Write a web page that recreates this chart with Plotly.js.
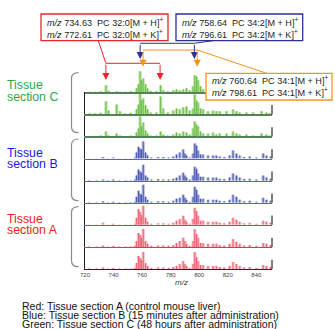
<!DOCTYPE html>
<html><head><meta charset="utf-8">
<script src="https://cdn.plot.ly/plotly-3.0.1.min.js"></script>
<style>html,body{margin:0;padding:0;background:#fff;}#chart{width:335px;height:329px;}</style>
</head><body><div id="chart"></div>
<script>
// ---------- data ----------
const xRange = [720, 851];
const tickVals = [720, 740, 760, 780, 800, 820, 840];

// Tissue section C (green) peak positions and intensities (0-100 of panel height)
const greenMz = [723.5,727.0,731.0,734.7,736.5,742.2,744.5,748.0,752.0,756.1,757.5,758.6,759.6,760.8,762.4,763.8,766.0,770.0,773.0,774.8,778.0,781.8,784.1,786.4,788.8,791.1,793.4,795.7,796.9,798.1,799.2,800.9,802.7,806.2,809.7,812.0,814.4,819.1,823.7,826.1,828.4,833.1,837.7,843.6,847.1,849.5];
const greenC1 = [2,2,5,32,7,5,2,2,5,18,36,95,54,63,36,18,7,5,32,9,5,9,14,9,14,18,9,27,77,72,54,27,14,9,14,9,9,9,14,9,5,5,5,9,5,5];
const greenC2 = [5,5,7,59,18,45,14,5,7,23,45,99,63,72,41,23,9,9,81,27,9,18,27,23,32,36,18,27,90,63,54,27,23,14,18,14,14,14,23,14,9,9,9,14,9,5];
const greenC3 = [2,2,5,23,5,14,5,2,5,18,36,90,45,63,27,14,5,5,23,9,5,9,18,14,23,18,9,36,68,54,45,23,14,14,18,9,14,14,23,14,9,9,5,14,9,5];

// Tissue sections B (blue) and A (red) peak positions
const abMz = [723.0,728.0,732.6,736.0,739.8,744.0,748.5,752.0,755.0,756.1,757.5,758.6,759.6,760.8,762.4,763.8,766.5,771.2,774.8,778.5,781.8,784.1,786.4,788.8,790.0,791.1,793.4,795.7,796.9,798.1,799.2,800.9,802.7,806.2,809.7,812.0,814.4,817.5,821.3,823.7,826.1,828.4,831.5,835.4,840.0,844.8,847.1,850.0];
const blueB1 = [2,2,7,2,5,2,2,2,5,27,54,45,41,77,27,14,5,7,7,5,9,18,27,41,23,14,5,23,68,59,36,18,18,14,14,14,9,7,14,36,23,14,7,9,5,23,14,9];
const blueB2 = [2,2,5,2,5,2,2,2,5,23,50,41,36,72,23,14,5,7,5,5,9,14,23,36,23,14,5,23,63,54,32,18,18,14,14,14,9,7,14,32,23,14,7,9,5,23,14,9];
const blueB3 = [2,2,7,2,5,2,2,2,5,27,54,41,36,81,27,14,5,7,7,5,9,18,23,36,23,14,5,27,72,59,36,18,18,14,14,14,9,7,14,36,27,14,7,9,5,23,14,9];
const redA1 = [2,2,9,2,5,2,2,2,5,32,72,59,45,86,32,14,5,7,7,5,9,18,27,41,23,14,5,27,77,63,41,18,18,14,14,14,9,7,14,32,23,14,7,9,5,18,14,9];
const redA2 = [2,2,7,2,5,2,2,2,5,27,63,54,41,81,27,14,5,7,7,5,9,18,27,41,27,14,5,27,81,59,41,18,18,14,14,14,9,7,14,36,23,14,7,9,5,18,14,9];
const redA3 = [2,2,7,2,5,2,2,2,5,27,59,50,41,77,27,14,5,7,7,5,9,14,23,36,23,14,5,23,77,54,36,18,18,14,14,14,9,7,14,32,23,14,7,9,5,18,14,9];

// annotated ions
const redIons = [734.63, 772.61];
const blueIons = [758.64, 796.61];
const orangeIons = [760.64, 798.61];
const redLabels = ['734.63\u00a0\u00a0PC 32:0[M + H]', '772.61\u00a0\u00a0PC 32:0[M + K]'];
const blueLabels = ['758.64\u00a0\u00a0PC 34:2[M + H]', '796.61\u00a0\u00a0PC 34:2[M + K]'];
const orangeLabels = ['760.64\u00a0\u00a0PC 34:1[M + H]', '798.61\u00a0\u00a0PC 34:1[M + K]'];
const xTitle = '<i>m/z</i>';
const captionLines = [
  'Red: Tissue section A (control mouse liver)',
  'Blue: Tissue section B (15 minutes after administration)',
  'Green: Tissue section C (48 hours after administration)'
];

// ---------- layout helpers ----------
const W = 335, H = 329;
const FONT = 'Liberation Sans, Arial, sans-serif';
const px = v => v / W;
const py = v => 1 - v / H;
const xDomPx = [85, 272];
const xDom = [px(xDomPx[0]), px(xDomPx[1])];
const mzPx = mz => xDomPx[0] + (mz - xRange[0]) / (xRange[1] - xRange[0]) * (xDomPx[1] - xDomPx[0]);

const groups = [
  {mz: greenMz, sets: [greenC1, greenC2, greenC3], dark: '#6cbf4c', light: 'rgba(170,220,140,0.8)', line: '#56805a'},
  {mz: abMz, sets: [blueB1, blueB2, blueB3], dark: '#4b59b5', light: 'rgba(160,168,222,0.8)', line: '#5a66a8'},
  {mz: abMz, sets: [redA1, redA2, redA3], dark: '#ef6475', light: 'rgba(246,170,180,0.8)', line: '#b04a58'}
];

const panelH = 22.09, firstBase = 92.3;
const traces = [];
const layout = {
  width: W, height: H, margin: {l: 0, r: 0, t: 0, b: 0},
  paper_bgcolor: '#fff', plot_bgcolor: 'rgba(0,0,0,0)',
  showlegend: false, barmode: 'overlay',
  font: {family: FONT, color: '#231f20'},
  shapes: [], annotations: []
};

let i = 0;
groups.forEach(g => {
  g.sets.forEach(vals => {
    const n = 9 - i;               // bottom panel uses x / y
    const xa = n === 1 ? 'x' : 'x' + n, ya = n === 1 ? 'y' : 'y' + n;
    const xk = n === 1 ? 'xaxis' : 'xaxis' + n, yk = n === 1 ? 'yaxis' : 'yaxis' + n;
    const base = firstBase + i * panelH;
    traces.push({type: 'bar', x: g.mz, y: vals, xaxis: xa, yaxis: ya, width: 2.2,
      marker: {color: g.light, line: {width: 0}}, hoverinfo: 'skip'});
    traces.push({type: 'bar', x: g.mz, y: vals, xaxis: xa, yaxis: ya, width: 0.75,
      marker: {color: g.dark, line: {width: 0}}, hoverinfo: 'skip'});
    layout[xk] = {domain: xDom, range: xRange, anchor: ya, showgrid: false, zeroline: false,
      showline: true, linecolor: n === 1 ? '#4a1a20' : g.line, linewidth: 1.2,
      ticks: '', showticklabels: n === 1, fixedrange: true};
    if (n !== 1) layout[xk].matches = 'x';
    layout[yk] = {domain: [py(base), py(base - panelH)], range: [0, 100], anchor: xa,
      showgrid: false, zeroline: false, showticklabels: false, ticks: '',
      showline: i !== 0, linecolor: '#231f20', linewidth: 1.2, fixedrange: true};
    // short right-end marker
    layout.shapes.push({type: 'line', xref: xa + ' domain', yref: ya + ' domain',
      x0: 1, x1: 1, y0: 0, y1: 0.42, line: {color: '#555', width: 1.5}});
    i++;
  });
});
Object.assign(layout.xaxis, {
  tickvals: tickVals, ticktext: tickVals.map(String),
  tickfont: {size: 6, color: '#444', family: FONT}
});
// axis title placed below tick labels
layout.annotations.push({text: xTitle, xref: 'paper', yref: 'paper', x: px(181), y: py(282.5),
  xanchor: 'center', yanchor: 'middle', showarrow: false, font: {size: 8, color: '#333', family: FONT}});

// ---------- group labels and braces ----------
const sectionLabels = [
  {t1: 'Tissue', t2: 'section C', color: '#2aa845', y1: 85, y2: 96.5, top: 72.7, bot: 132.7},
  {t1: 'Tissue', t2: 'section B', color: '#1717f0', y1: 152.5, y2: 163.5, top: 139, bot: 200.7},
  {t1: 'Tissue', t2: 'section A', color: '#ee1c24', y1: 218.5, y2: 229.5, top: 206.7, bot: 266.7}
];
sectionLabels.forEach(s => {
  [[s.t1, s.y1], [s.t2, s.y2]].forEach(([t, y]) => layout.annotations.push({
    text: t, xref: 'paper', yref: 'paper', x: px(5), y: py(y), xanchor: 'left', yanchor: 'middle',
    showarrow: false, font: {size: 12.3, color: s.color, family: FONT}}));
  const xl = 71.5, xr = 78.5, r = 6;
  const path = `M ${px(xr)} ${py(s.top)} Q ${px(xl)} ${py(s.top)} ${px(xl)} ${py(s.top + r)} ` +
    `L ${px(xl)} ${py(s.bot - r)} Q ${px(xl)} ${py(s.bot)} ${px(xr)} ${py(s.bot)}`;
  layout.shapes.push({type: 'path', xref: 'paper', yref: 'paper', path: path,
    line: {color: '#8a8a8a', width: 1.2}});
});

// ---------- callout boxes ----------
const boxes = [
  {x0: 41, x1: 168, y0: 14, y1: 40.7, color: '#e8262c', tx: 44.5, ty: [21.5, 33.5], labels: redLabels},
  {x0: 176, x1: 302.7, y0: 14, y1: 40.7, color: '#2e3192', tx: 179.5, ty: [21.5, 33.5], labels: blueLabels},
  {x0: 206, x1: 332, y0: 73.3, y1: 100, color: '#f7941d', tx: 210, ty: [80, 92], labels: orangeLabels}
];

// connector lines and arrows
const connectors = [
  {ions: redIons, color: '#e8262c', barY: 63.3, tipY: 80, from: [98.3, 40.7], joinIdx: 0},
  {ions: blueIons, color: '#2e3192', barY: 43.3, tipY: 59, from: [213, 40.7], joinIdx: 1},
  {ions: orangeIons, color: '#f7941d', barY: 50, tipY: 66.7, from: [266.7, 73.3], joinIdx: 1}
];
connectors.forEach(c => {
  layout.shapes.push({type: 'line', xref: 'x', yref: 'paper', x0: c.ions[0], x1: c.ions[1],
    y0: py(c.barY), y1: py(c.barY), line: {color: c.color, width: 1}});
  const jx = mzPx(c.ions[c.joinIdx]);
  layout.shapes.push({type: 'line', xref: 'paper', yref: 'paper', x0: px(c.from[0]), y0: py(c.from[1]),
    x1: px(jx), y1: py(c.barY), line: {color: c.color, width: 1}});
  c.ions.forEach(mz => layout.annotations.push({
    x: mz, xref: 'x', y: py(c.tipY), yref: 'paper', text: '', showarrow: true,
    ax: 0, ay: -(c.tipY - c.barY), arrowhead: 2, arrowsize: 1.4, arrowwidth: 1, arrowcolor: c.color}));
});

boxes.forEach(b => {
  layout.shapes.push({type: 'rect', xref: 'paper', yref: 'paper', x0: px(b.x0), x1: px(b.x1),
    y0: py(b.y0), y1: py(b.y1), fillcolor: '#fff', line: {color: b.color, width: 1.3}, layer: 'above'});
  b.labels.forEach((lab, k) => layout.annotations.push({
    text: '<i>m/z</i> ' + lab + '<sup>+</sup>', xref: 'paper', yref: 'paper',
    x: px(b.tx), y: py(b.ty[k]), xanchor: 'left', yanchor: 'middle', showarrow: false,
    font: {size: 9.1, color: '#231f20', family: FONT}}));
});

// ---------- caption ----------
captionLines.forEach((t, k) => layout.annotations.push({
  text: t, xref: 'paper', yref: 'paper', x: px(20), y: py(305.5 + k * 9.3),
  xanchor: 'left', yanchor: 'middle', showarrow: false,
  font: {size: 10.5, color: '#111', family: FONT}}));

Plotly.newPlot('chart', traces, layout, {staticPlot: true, displayModeBar: false});
</script></body></html>
